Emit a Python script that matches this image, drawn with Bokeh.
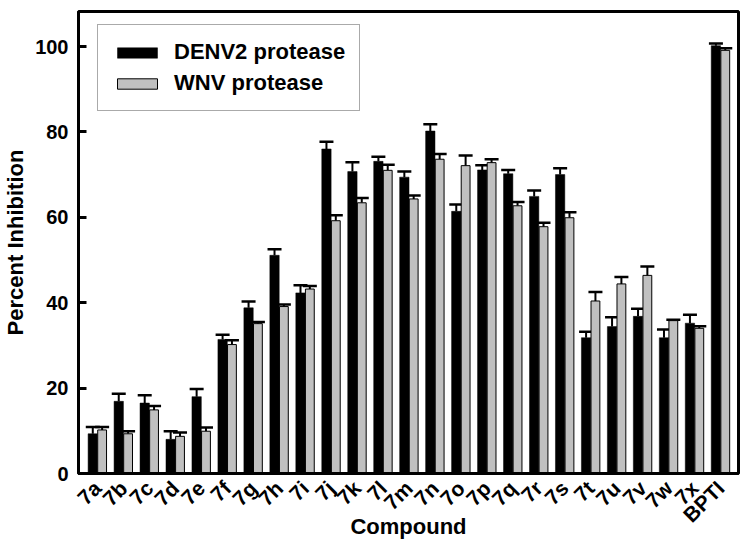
import numpy as np
from math import pi
from bokeh.plotting import figure
from bokeh.models import ColumnDataSource, Whisker, TeeHead, FixedTicker, Range1d
from bokeh.embed import file_html
from bokeh.resources import INLINE

compounds = ["7a", "7b", "7c", "7d", "7e", "7f", "7g", "7h", "7i", "7j", "7k", "7l",
             "7m", "7n", "7o", "7p", "7q", "7r", "7s", "7t", "7u", "7v", "7w", "7x", "BPTI"]
denv2 = [9.3, 16.9, 16.5, 8.0, 18.0, 31.4, 38.8, 51.1, 42.3, 76.0, 70.7, 73.1,
         69.4, 80.2, 61.4, 71.1, 70.2, 64.9, 70.0, 31.8, 34.4, 36.8, 31.8, 35.2, 100.2]
denv2_err = [1.6, 1.8, 1.8, 1.9, 1.8, 1.1, 1.5, 1.4, 1.8, 1.7, 2.2, 1.1,
             1.3, 1.6, 1.6, 1.1, 0.9, 1.4, 1.5, 1.4, 2.2, 1.8, 1.9, 2.0, 0.5]
wnv = [10.2, 9.3, 14.9, 8.7, 9.9, 30.2, 35.1, 39.1, 43.2, 59.2, 63.4, 71.0,
       64.3, 73.6, 72.1, 72.8, 62.7, 57.8, 59.9, 40.4, 44.4, 46.4, 35.8, 34.0, 99.1]
wnv_err = [0.7, 0.6, 0.9, 0.9, 0.9, 1.0, 0.4, 0.5, 0.7, 1.3, 1.1, 1.3,
           0.8, 1.2, 2.4, 0.8, 0.9, 0.9, 1.3, 2.1, 1.6, 2.1, 0.2, 0.5, 0.5]

idx = np.arange(len(compounds))
off = 0.18
src = ColumnDataSource(dict(
    xd=idx - off, xw=idx + off,
    denv2=denv2, wnv=wnv,
    d_up=np.array(denv2) + np.array(denv2_err),
    w_up=np.array(wnv) + np.array(wnv_err),
))

FONT = "Liberation Sans"

p = figure(width=750, height=542, output_backend="svg", toolbar_location=None,
           x_range=Range1d(-0.73, 24.69), y_range=Range1d(0, 108.2),
           min_border_left=78, min_border_right=12, min_border_top=11, min_border_bottom=69)

p.vbar(x="xd", top="denv2", width=0.36, source=src, fill_color="black", line_color="black",
       line_width=0.5, legend_label="DENV2 protease")
p.vbar(x="xw", top="wnv", width=0.34, source=src, fill_color="#c0c0c0", line_color="black",
       line_width=1, legend_label="WNV protease")

for base, lo, up in (("xd", "denv2", "d_up"), ("xw", "wnv", "w_up")):
    w = Whisker(base=base, lower=lo, upper=up, source=src, dimension="height",
                line_color="black", line_width=2,
                upper_head=TeeHead(size=14, line_width=2.5, line_color="black"),
                lower_head=None)
    p.add_layout(w)

p.grid.visible = False
p.outline_line_color = "black"
p.outline_line_width = 3

# y axis
p.yaxis.ticker = FixedTicker(ticks=[0, 20, 40, 60, 80, 100])
p.yaxis.axis_label = "Percent Inhibition"
p.yaxis.axis_label_text_font = FONT
p.yaxis.axis_label_text_font_style = "bold"
p.yaxis.axis_label_text_font_size = "22px"
p.yaxis.axis_label_text_color = "black"
p.yaxis.axis_label_standoff = 4
p.yaxis.major_label_text_font = FONT
p.yaxis.major_label_text_font_style = "bold"
p.yaxis.major_label_text_font_size = "20px"
p.yaxis.major_label_text_color = "black"
p.yaxis.major_label_standoff = 10
p.yaxis.major_tick_in = 8
p.yaxis.major_tick_out = 0
p.yaxis.major_tick_line_width = 3
p.yaxis.minor_tick_line_color = None
p.yaxis.axis_line_width = 3

# x axis
p.xaxis.ticker = FixedTicker(ticks=list(idx))
p.xaxis.major_label_overrides = {int(i): c for i, c in zip(idx, compounds)}
p.xaxis.major_label_orientation = pi / 4
p.xaxis.major_label_text_font = FONT
p.xaxis.major_label_text_font_style = "bold"
p.xaxis.major_label_text_font_size = "21px"
p.xaxis.major_label_text_color = "black"
p.xaxis.major_label_standoff = 5
p.xaxis.major_tick_line_color = None
p.xaxis.minor_tick_line_color = None
p.xaxis.axis_line_width = 3
p.xaxis.axis_label = "Compound"
p.xaxis.axis_label_text_font = FONT
p.xaxis.axis_label_text_font_style = "bold"
p.xaxis.axis_label_text_font_size = "22px"
p.xaxis.axis_label_text_color = "black"
p.xaxis.axis_label_standoff = -24

lg = p.legend[0]
lg.location = (19, 362)
lg.label_text_font = FONT
lg.label_text_font_style = "bold"
lg.label_text_font_size = "22px"
lg.label_text_color = "black"
lg.glyph_width = 50
lg.glyph_height = 13
lg.label_height = 20
lg.label_standoff = 12
lg.spacing = 5
lg.padding = 14
lg.margin = 0
lg.border_line_color = "#555555"
lg.border_line_width = 1
lg.background_fill_alpha = 1

open("out.html", "w").write(file_html(p, INLINE))
